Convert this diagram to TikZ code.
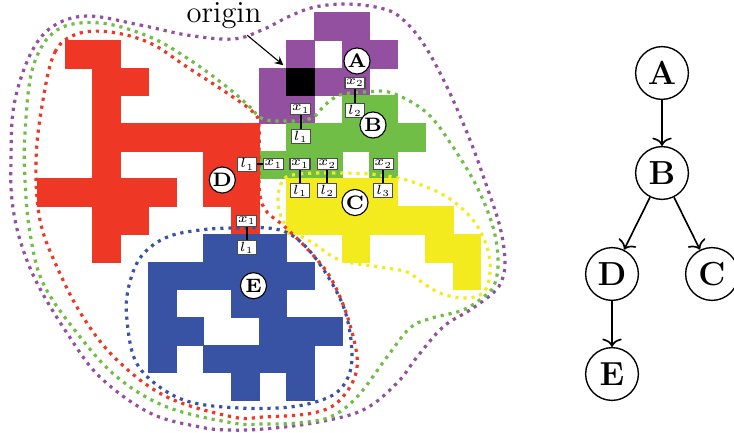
\RequirePackage{fix-cm}
\documentclass[tikz,border=0pt]{standalone}
\usetikzlibrary{arrows.meta}

\definecolor{regA}{RGB}{147,80,160}
\definecolor{regB}{RGB}{112,190,70}
\definecolor{regC}{RGB}{243,235,30}
\definecolor{regD}{RGB}{238,55,36}
\definecolor{regE}{RGB}{57,83,164}

\tikzset{
  cell/.style={line width=0.2pt},
  hull/.style={line width=1.15pt, dash pattern=on 1.15pt off 1.75pt},
  region/.style={circle, draw, fill=white, minimum size=9.4pt, inner sep=0pt, font=\scriptsize\bfseries},
  lbl/.style={draw=black!70, fill=white, inner sep=0.3pt, minimum width=6.8pt, minimum height=3.9pt, font=\fontsize{4.8}{5.5}\selectfont},
  tree/.style={circle, draw, line width=0.5pt, minimum size=19pt, inner sep=0pt, font=\large\bfseries}
}

\begin{document}
\begin{tikzpicture}[x=0.36pt, y=-0.36pt, >={To[width=7pt,length=3pt]}]
    \useasboundingbox (0,0) rectangle (734,432);

    % pixel regions
    \begin{scope}[shift={(13.43pt,-4.5pt)}, x=9.972pt, y=-9.972pt]
        \foreach \c/\r in {10/0, 11/0, 9/1, 11/1, 12/1, 8/2, 10/2, 11/2, 8/3, 9/3}
            \filldraw[cell, regA] (\c,\r) rectangle (\c+1,\r+1);
        \filldraw[cell, black] (9,2) rectangle (10,3);
        \coordinate (blackcell) at (9,2);
        \foreach \c/\r in {11/3, 12/3, 9/4, 10/4, 11/4, 12/4, 13/4, 8/5, 9/5, 10/5, 12/5}
            \filldraw[cell, regB] (\c,\r) rectangle (\c+1,\r+1);
        \foreach \c/\r in {9/6, 10/6, 11/6, 12/6, 9/7, 10/7, 11/7, 12/7, 13/7, 14/7, 11/8, 14/8, 15/8, 15/9}
            \filldraw[cell, regC] (\c,\r) rectangle (\c+1,\r+1);
        \foreach \c/\r in {1/1, 2/1, 2/2, 3/2, 2/3, 2/4, 3/4, 4/4, 5/4, 6/4, 7/4, 2/5, 6/5, 7/5,
                           0/6, 1/6, 2/6, 3/6, 4/6, 6/6, 7/6, 2/7, 3/7, 7/7, 2/8}
            \filldraw[cell, regD] (\c,\r) rectangle (\c+1,\r+1);
        \foreach \c/\r in {6/8, 7/8, 8/8, 4/9, 5/9, 6/9, 7/9, 8/9, 9/9, 4/10, 7/10, 8/10,
                           4/11, 5/11, 8/11, 9/11, 10/11, 4/12, 6/12, 7/12, 8/12, 9/12, 7/13, 9/13}
            \filldraw[cell, regE] (\c,\r) rectangle (\c+1,\r+1);
    \end{scope}

    % nested hulls
    \draw[hull, regA] plot[smooth cycle, tension=0.6] coordinates {(87,16) (140,25) (187,35) (233,39) (262,30) (290,16) (315,7) (347,4) (380,8) (400,17) (423,43) (447,87) (470,140) (487,187) (500,227) (505,260) (502,280) (493,293) (470,310) (443,327) (417,357) (397,383) (363,410) (313,423) (263,429) (230,430) (200,427) (150,413) (100,377) (67,333) (37,283) (20,240) (12,200) (11,160) (14,105) (30,55) (52,27)};
    \draw[hull, regB] plot[smooth cycle, tension=0.6] coordinates {(100,23) (150,37) (190,60) (227,87) (250,107) (263,119) (290,121) (312,118) (325,105) (340,95) (365,92) (392,93) (427,113) (453,147) (477,187) (493,227) (498,260) (495,283) (486,295) (463,310) (432,318) (410,328) (387,357) (357,397) (330,417) (297,423) (263,424) (233,423) (167,407) (117,377) (77,333) (43,283) (30,233) (25,180) (25,133) (33,67) (57,30)};
    \draw[hull, regD] plot[smooth cycle, tension=0.6] coordinates {(43,100) (55,52) (77,34) (110,32) (150,43) (187,67) (227,93) (253,112) (259,125) (259,160) (260,195) (267,212) (285,227) (313,255) (333,282) (350,325) (357,368) (340,400) (313,413) (263,417) (233,417) (167,397) (117,360) (83,317) (57,267) (40,220) (36,160)};
    \draw[hull, regE] plot[smooth cycle, tension=0.6] coordinates {(140,258) (165,238) (200,230) (240,228) (280,230) (307,248) (333,285) (347,318) (352,358) (345,383) (327,398) (290,407) (240,408) (190,402) (157,385) (135,360) (127,320) (128,290)};
    \draw[hull, regC] plot[smooth cycle, tension=0.6] coordinates {(283,180) (300,174) (340,173) (380,175) (413,182) (447,197) (473,220) (487,247) (490,273) (483,293) (463,298) (440,293) (423,283) (407,272) (380,267) (340,260) (313,243) (287,227) (278,203)};

    % boundary labels
    \node[lbl] (a-x1) at (300.7,109.3) {$x_1$};
    \node[lbl] (b-l1) at (300.7,136.7) {$l_1$};
    \node[lbl] (a-x2) at (355,82.7) {$x_2$};
    \node[lbl] (b-l2) at (355,110.7) {$l_2$};
    \node[lbl] (d-l1) at (247.3,164.3) {$l_1$};
    \node[lbl] (b-x1d) at (273.3,164.3) {$x_1$};
    \node[lbl] (b-x1) at (300,164.3) {$x_1$};
    \node[lbl] (c-l1) at (300,190.7) {$l_1$};
    \node[lbl] (b-x2) at (327.3,164.3) {$x_2$};
    \node[lbl] (c-l2) at (327.3,190.7) {$l_2$};
    \node[lbl] (b-x2c) at (383.3,164.3) {$x_2$};
    \node[lbl] (c-l3) at (383.3,190.7) {$l_3$};
    \node[lbl] (d-x1) at (246.7,220.7) {$x_1$};
    \node[lbl] (e-l1) at (246.7,247.7) {$l_1$};
    \draw[line width=0.6pt] (a-x1) -- (b-l1);
    \draw[line width=0.6pt] (a-x2) -- (b-l2);
    \draw[line width=0.6pt] (d-l1) -- (b-x1d);
    \draw[line width=0.6pt] (b-x1) -- (c-l1);
    \draw[line width=0.6pt] (b-x2) -- (c-l2);
    \draw[line width=0.6pt] (b-x2c) -- (c-l3);
    \draw[line width=0.6pt] (d-x1) -- (e-l1);

    % region names
    \node[region] (rA) at (357,61) {A};
    \node[region] (rB) at (373,125) {B};
    \node[region] (rC) at (355,202.5) {C};
    \node[region] (rD) at (222.3,180) {D};
    \node[region] (rE) at (253.5,285.7) {E};

    \node[inner sep=2pt, font=\fontsize{11}{13}\selectfont] (origin) at (224,16) {origin};
    \draw[-stealth, shorten >=1.5pt] (origin) -- (blackcell);

    % region tree
    \node[tree] (tA) at (662,73) {A};
    \node[tree] (tB) at (662,173) {B};
    \node[tree] (tD) at (612,274) {D};
    \node[tree] (tC) at (712,274) {C};
    \node[tree] (tE) at (612,374) {E};
    \draw[->, line width=0.6pt] (tA) -- (tB);
    \draw[->, line width=0.6pt] (tB) -- (tD);
    \draw[->, line width=0.6pt] (tB) -- (tC);
    \draw[->, line width=0.6pt] (tD) -- (tE);
\end{tikzpicture}
\end{document}
